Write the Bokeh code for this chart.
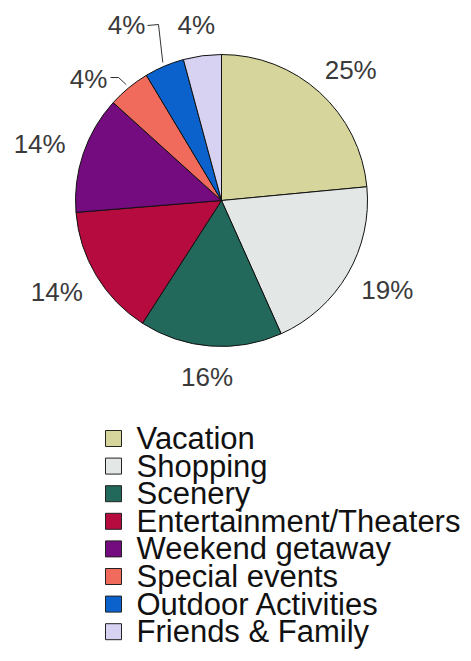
import math
from bokeh.plotting import figure
from bokeh.models import Range1d
from bokeh.embed import file_html
from bokeh.resources import INLINE
from bokeh.core.properties import value

# ---- data ----
categories = ["Vacation", "Shopping", "Scenery", "Entertainment/Theaters",
              "Weekend getaway", "Special events", "Outdoor Activities", "Friends & Family"]
shares = [23.5, 19.8, 15.8, 14.6, 13.0, 4.7, 4.4, 4.2]
pct_labels = ["25%", "19%", "16%", "14%", "14%", "4%", "4%", "4%"]
colors = ["#d6d59c", "#e3e8e7", "#22695c", "#b50b3f",
          "#740b7e", "#f06b5c", "#0b62cc", "#d8d2f2"]

# ---- layout ----
W, H = 471, 661
CX, CY, R = 221, 200, 146          # pie centre / radius (pixels, y down)
LBL_D, LBL_W, LBL_H = 166, 52, 22  # label placement
moved_labels = {5: (88, 78), 6: (126, 24)}  # dragged labels with leader lines
FONT = "Liberation Sans"


def Y(py):
    return H - py


p = figure(width=W, height=H, x_range=Range1d(0, W), y_range=Range1d(0, H),
           output_backend="svg", toolbar_location=None, min_border=0,
           x_axis_type=None, y_axis_type=None)
p.grid.visible = False
p.outline_line_color = None
p.background_fill_color = "white"
p.border_fill_color = "white"

total = sum(shares)
b0s, b1s = [], []
acc = 0.0
for s in shares:
    b0s.append(acc / total * 360.0)
    acc += s
    b1s.append(acc / total * 360.0)

start = [math.radians(90 - b1) for b1 in b1s]
end = [math.radians(90 - b0) for b0 in b0s]
p.wedge(x=[CX] * len(shares), y=[Y(CY)] * len(shares), radius=R,
        start_angle=start, end_angle=end, direction="anticlock",
        fill_color=colors, line_color="#111111", line_width=1)

# percentage labels
lx, ly, lt = [], [], []
leader_xs, leader_ys = [], []
for i, (b0, b1) in enumerate(zip(b0s, b1s)):
    mid = math.radians((b0 + b1) / 2)
    ux, uy = math.sin(mid), -math.cos(mid)
    if i in moved_labels:
        px, py = moved_labels[i]
        ex, ey = CX + (R + 4) * ux, CY + (R + 4) * uy
        if py < 40:
            xs = [px + 21, px + 32, ex]
            ys = [py + 1, py, ey]
        else:
            xs = [px + 22, px + 30, ex]
            ys = [py - 1, py - 1, ey]
        leader_xs.append(xs)
        leader_ys.append([Y(v) for v in ys])
    else:
        px = CX + LBL_D * ux + LBL_W / 2 * ux
        py = CY + LBL_D * uy + LBL_H / 2 * uy
    lx.append(px)
    ly.append(Y(py))
    lt.append(pct_labels[i])

p.multi_line(xs=leader_xs, ys=leader_ys, line_color="#333333", line_width=1)
p.text(x=lx, y=ly, text=lt, text_align="center", text_baseline="middle",
       text_font=value(FONT), text_font_size="26px", text_color="#3a3a3a")

# legend (drawn manually)
row0, row_h = 438, 27.6
sq_x, sq = 113, 16
rows_y = [Y(row0 + row_h * i) for i in range(len(categories))]
p.rect(x=[sq_x] * len(categories), y=rows_y, width=sq, height=sq,
       fill_color=colors, line_color="#222222", line_width=1)
p.text(x=[136] * len(categories), y=rows_y, text=categories,
       text_align="left", text_baseline="middle",
       text_font=value(FONT), text_font_size="31px", text_color="#111111")

open("out.html", "w").write(file_html(p, INLINE))
